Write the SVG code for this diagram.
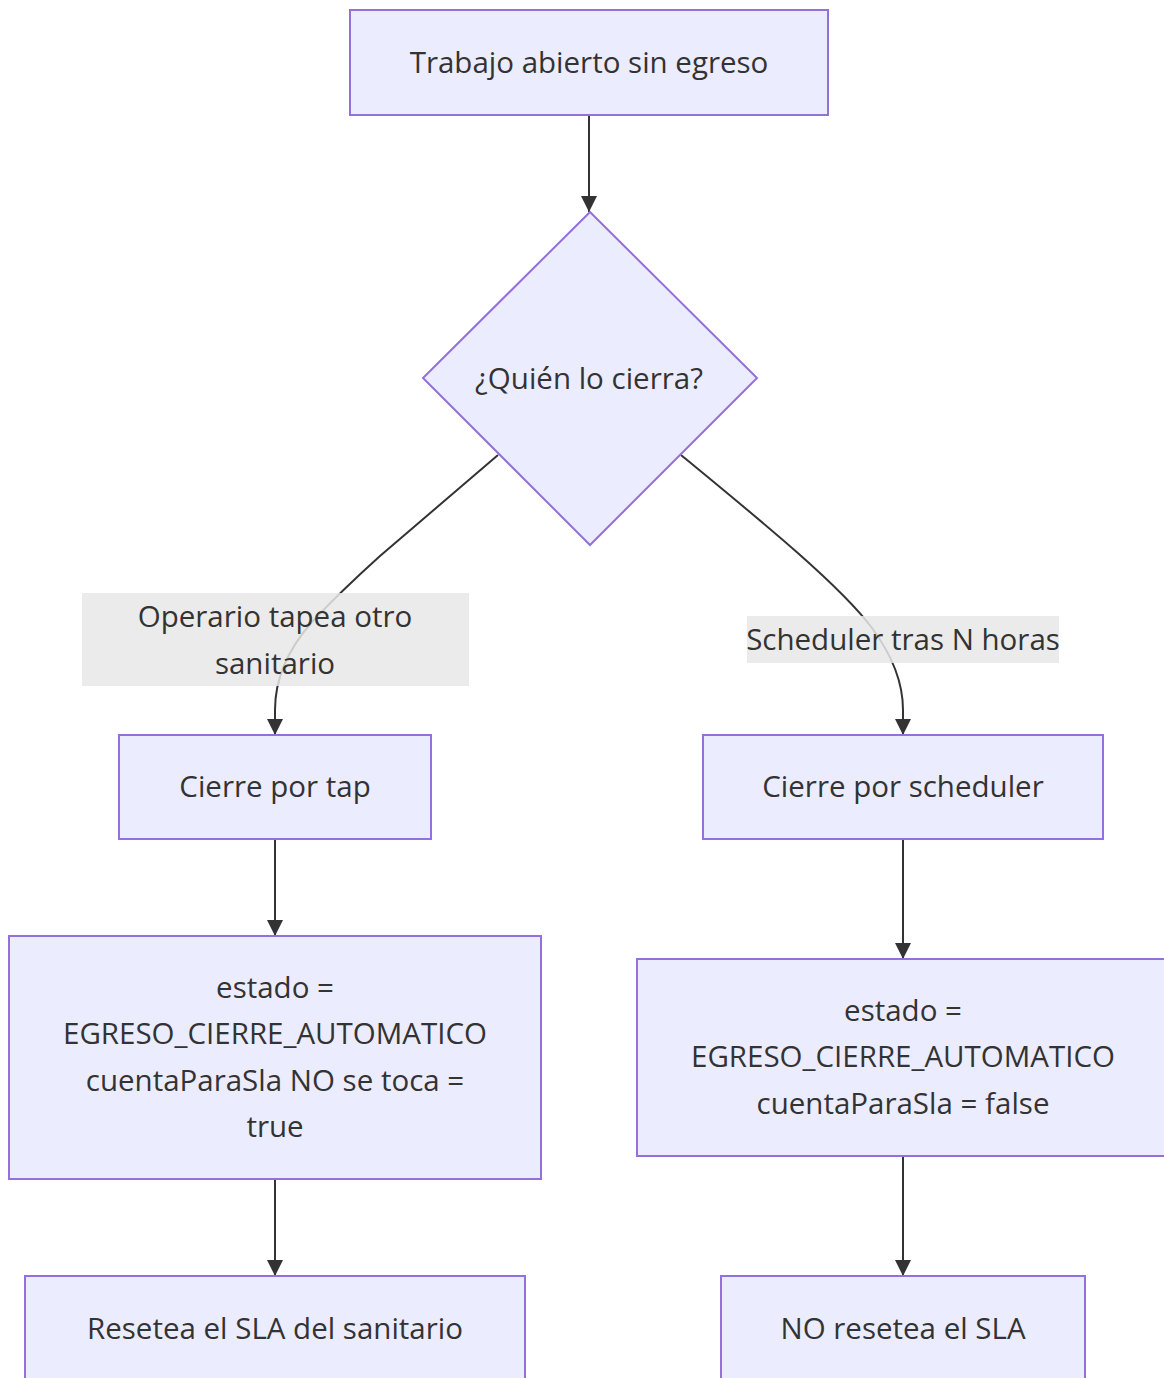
<svg xmlns="http://www.w3.org/2000/svg" width="1164" height="1378" viewBox="0 0 1164 1378">
  <style>
    .node rect, .node polygon { fill: #ECECFF; stroke: #9370DB; stroke-width: 2; }
    .label { font-family: "Open Sans", Lato, "DejaVu Sans", sans-serif; font-size: 29.5px; fill: #333333; text-anchor: middle; dominant-baseline: central; }
    .edge { fill: none; stroke: #333333; stroke-width: 2; }
    .edge-label rect { fill: #e8e8e8; opacity: 0.85; }
  </style>
  <defs>
    <marker id="arrow" viewBox="0 0 10 10" refX="10" refY="5" markerWidth="16" markerHeight="16" markerUnits="userSpaceOnUse" orient="auto">
      <path d="M0,0 L10,5 L0,10 Z" fill="#333333"/>
    </marker>
  </defs>
  <rect width="1164" height="1378" fill="#ffffff"/>

  <!-- connectors -->
  <g id="connectors">
    <path class="edge" d="M589,115 L589,212" marker-end="url(#arrow)"/>
    <path class="edge" d="M498,455 L380,556 Q340,592 312,622 Q275,664 275,710 L275,735" marker-end="url(#arrow)"/>
    <path class="edge" d="M681,455 C760,520 840,585 872,628 Q903,670 903,710 L903,735" marker-end="url(#arrow)"/>
    <path class="edge" d="M275,839 L275,936" marker-end="url(#arrow)"/>
    <path class="edge" d="M903,839 L903,959" marker-end="url(#arrow)"/>
    <path class="edge" d="M275,1179 L275,1276" marker-end="url(#arrow)"/>
    <path class="edge" d="M903,1156 L903,1276" marker-end="url(#arrow)"/>
  </g>

  <!-- edge labels -->
  <g id="edge-label-tap" class="edge-label">
    <rect x="82" y="593" width="387" height="93"/>
    <text class="label" x="275" y="615">Operario tapea otro</text>
    <text class="label" x="275" y="662">sanitario</text>
  </g>
  <g id="edge-label-scheduler" class="edge-label">
    <rect x="747" y="616" width="312" height="47"/>
    <text class="label" x="903" y="638">Scheduler tras N horas</text>
  </g>

  <!-- nodes -->
  <g id="node-inicio" class="node">
    <rect x="350" y="10" width="478" height="105"/>
    <text class="label" x="589" y="61">Trabajo abierto sin egreso</text>
  </g>
  <g id="node-decision" class="node">
    <polygon points="590,212 757,378 590,545 423,378"/>
    <text class="label" x="589" y="377">¿Quién lo cierra?</text>
  </g>
  <g id="node-cierre-tap" class="node">
    <rect x="119" y="735" width="312" height="104"/>
    <text class="label" x="275" y="785">Cierre por tap</text>
  </g>
  <g id="node-cierre-scheduler" class="node">
    <rect x="703" y="735" width="400" height="104"/>
    <text class="label" x="903" y="785">Cierre por scheduler</text>
  </g>
  <g id="node-estado-tap" class="node">
    <rect x="9" y="936" width="532" height="243"/>
    <text class="label" x="275" y="986">estado =</text>
    <text class="label" x="275" y="1032">EGRESO_CIERRE_AUTOMATICO</text>
    <text class="label" x="275" y="1079">cuentaParaSla NO se toca =</text>
    <text class="label" x="275" y="1125">true</text>
  </g>
  <g id="node-estado-scheduler" class="node">
    <rect x="637" y="959" width="531" height="197"/>
    <text class="label" x="903" y="1009">estado =</text>
    <text class="label" x="903" y="1055">EGRESO_CIERRE_AUTOMATICO</text>
    <text class="label" x="903" y="1102">cuentaParaSla = false</text>
  </g>
  <g id="node-resetea" class="node">
    <rect x="25" y="1276" width="500" height="120"/>
    <text class="label" x="275" y="1327">Resetea el SLA del sanitario</text>
  </g>
  <g id="node-no-resetea" class="node">
    <rect x="721" y="1276" width="364" height="120"/>
    <text class="label" x="903" y="1327">NO resetea el SLA</text>
  </g>
</svg>
